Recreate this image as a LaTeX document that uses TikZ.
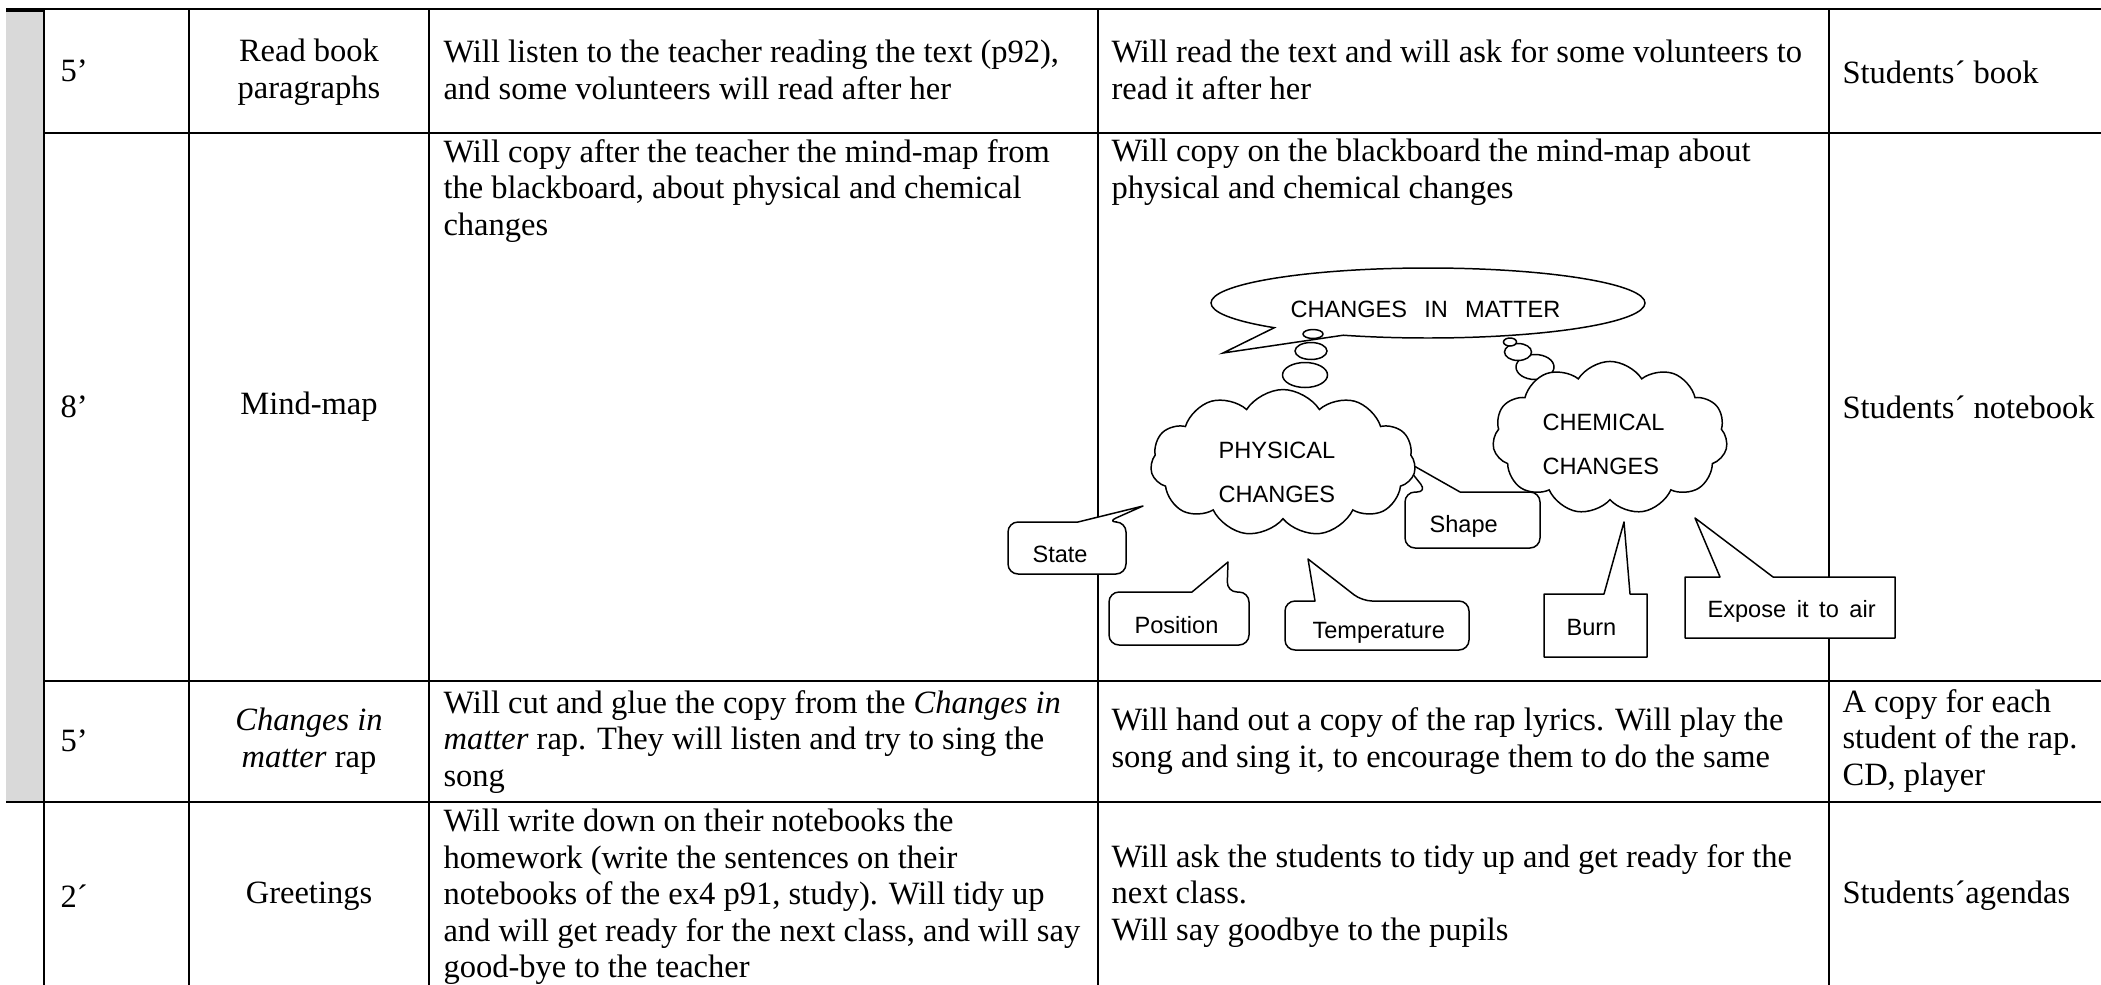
\documentclass[tikz,border=0pt]{standalone}
\usepackage{fontspec}
\setmainfont{Liberation Serif}
\newfontfamily\arialfont{Liberation Sans}
\usetikzlibrary{shapes.symbols}
\definecolor{stripgray}{RGB}{217,217,217}
\newcommand\gapsp{\hspace{0.45em}}
\newcommand\widegap{\hspace{0.73em}}
\begin{document}
\begin{tikzpicture}[x=0.369pt, y=-0.369pt,
  gridline/.style={line width=0.75pt},
  cell/.style={font=\fontsize{12}{13.5}\selectfont, inner sep=0pt, align=left, anchor=west},
  ccell/.style={font=\fontsize{12}{13.5}\selectfont, inner sep=0pt, align=center, anchor=center},
  sans/.style={font=\arialfont\fontsize{8.7}{10}\selectfont, inner sep=0pt, anchor=base west},
  callout/.style={draw, fill=white, line width=0.55pt, line join=round},
  bubble/.style={draw, fill=white, line width=0.55pt},
  thought/.style={cloud, draw, fill=white, line width=0.55pt, cloud puffs=11, cloud puff arc=115, cloud ignores aspect, inner sep=0pt}
]
\useasboundingbox (0,0) rectangle (2101,985);

% grey strip and grid
\fill[stripgray] (6,12) rectangle (44,802);
\draw[line width=1.6pt] (6,10) -- (44,10);
\draw[gridline] (6,9) -- (2101,9);
\draw[gridline] (44,133) -- (2101,133);
\draw[gridline] (44,681) -- (2101,681);
\draw[gridline] (6,802) -- (2101,802);
\foreach \xx in {44,189,429,1098,1829} \draw[gridline] (\xx,9) -- (\xx,985);

% row 1
\node[cell] (r1t) at (60,71) {5’};
\node[ccell] (r1a) at (309,72) {Read book\\paragraphs};
\node[cell] (r1s) at (443,70) {Will listen to the teacher reading the text (p92),\\and some volunteers will read after her};
\node[cell] (r1k) at (1111,70) {Will read the text and will ask for some volunteers to\\read it after her};
\node[cell] (r1r) at (1842,72) {Students´ book};

% row 2
\node[cell] (r2t) at (60,407) {8’};
\node[ccell] (r2a) at (309,407) {Mind-map};
\node[cell] (r2s) at (443,191) {Will copy after the teacher the mind-map from\\the blackboard, about physical and chemical\\changes};
\node[cell] (r2k) at (1111,172) {Will copy on the blackboard the mind-map about\\physical and chemical changes};
\node[cell] (r2r) at (1842,407) {Students´ notebook};

% row 3
\node[cell] (r3t) at (60,741) {5’};
\node[ccell] (r3a) at (309,741) {\textit{Changes in}\\\textit{matter} rap};
\node[cell] (r3s) at (443,742) {Will cut and glue the copy from the \textit{Changes in}\\\textit{matter} rap. They will listen and try to sing the\\song};
\node[cell] (r3k) at (1111,741) {Will hand out a copy of the rap lyrics. Will play the\\song and sing it, to encourage them to do the same};
\node[cell] (r3r) at (1842,741) {A copy for each\\student of the rap.\\CD, player};

% row 4
\node[cell] (r4t) at (60,896) {2´};
\node[ccell] (r4a) at (309,896) {Greetings};
\node[cell] (r4s) at (443,897) {Will write down on their notebooks the\\homework (write the sentences on their\\notebooks of the ex4 p91, study). Will tidy up\\and will get ready for the next class, and will say\\good-bye to the teacher};
\node[cell] (r4k) at (1111,896) {Will ask the students to tidy up and get ready for the\\next class.\\Will say goodbye to the pupils};
\node[cell] (r4r) at (1842,896) {Students´agendas};

% ---- mind map: callouts ----
\draw[callout] (1078,522) [rounded corners=3.7pt] -- (1008,522) -- (1008,574) -- (1126,574) -- (1126,522) -- (1107,522) [sharp corners] -- (1143,506) -- cycle;
\node[sans] (state) at (1032,562) {State};

\draw[callout] (1192,592) [rounded corners=3.7pt] -- (1109,592) -- (1109,645) -- (1249,645) -- (1249,592) -- (1227,592) [sharp corners] -- (1228,562) -- cycle;
\node[sans] (pos) at (1134,633) {Position};

\draw[callout] (1315,601) [rounded corners=3.7pt] -- (1285,601) -- (1285,650) -- (1469,650) -- (1469,601) -- (1362,601) [sharp corners] -- (1308,559) -- cycle;
\begin{scope}
  \clip (1290,600) rectangle (1465,643);
  \node[sans] (temp) at (1312,638) {Temperature};
\end{scope}

\draw[callout] (1460,492) [rounded corners=3.7pt] -- (1540,492) -- (1540,548) -- (1405,548) -- (1405,492) -- (1427,492) [sharp corners] -- (1400,458) -- cycle;
\node[sans] (shape) at (1429,532) {Shape};

\draw[callout] (1604,594) -- (1544,594) -- (1544,657) -- (1647,657) -- (1647,594) -- (1630,594) -- (1624,522) -- cycle;
\node[sans] (burn) at (1566,635) {Burn};

\draw[callout] (1720,577) -- (1685,577) -- (1685,638) -- (1895,638) -- (1895,577) -- (1773,577) -- (1695,518) -- cycle;
\node[sans] (expose) at (1707,617) {Expose\gapsp it\gapsp to\gapsp air};

% ---- speech ellipse ----
\draw[bubble] (1428,303) ++(135.1:217 and 35) arc[start angle=135.1, end angle=473, x radius=217, y radius=35] -- (1223,353) -- cycle;
\node[sans] (title) at (1290,317) {CHANGES\widegap IN\widegap MATTER};

% thought bubbles
\draw[bubble] (1305,375) ellipse[x radius=22.5, y radius=12.5];
\draw[bubble] (1311,351) ellipse[x radius=16, y radius=8.5];
\draw[bubble] (1313,334) ellipse[x radius=10, y radius=4.5];
\draw[bubble] (1535,367) ellipse[x radius=19, y radius=12.5];
\draw[bubble] (1518,352) ellipse[x radius=13.5, y radius=8.5];
\draw[bubble] (1510,342) ellipse[x radius=6.5, y radius=4];

% clouds
\node[thought, minimum width=97.8pt, minimum height=54.2pt] (phys) at (1283,463) {};
\node[sans] (physA) at (1218,458) {PHYSICAL};
\node[sans] (physB) at (1218,502) {CHANGES};
\node[thought, minimum width=86.7pt, minimum height=56.5pt] (chem) at (1610,438) {};
\node[sans] (chemA) at (1542,430) {CHEMICAL};
\node[sans] (chemB) at (1542,474) {CHANGES};
\end{tikzpicture}
\end{document}
